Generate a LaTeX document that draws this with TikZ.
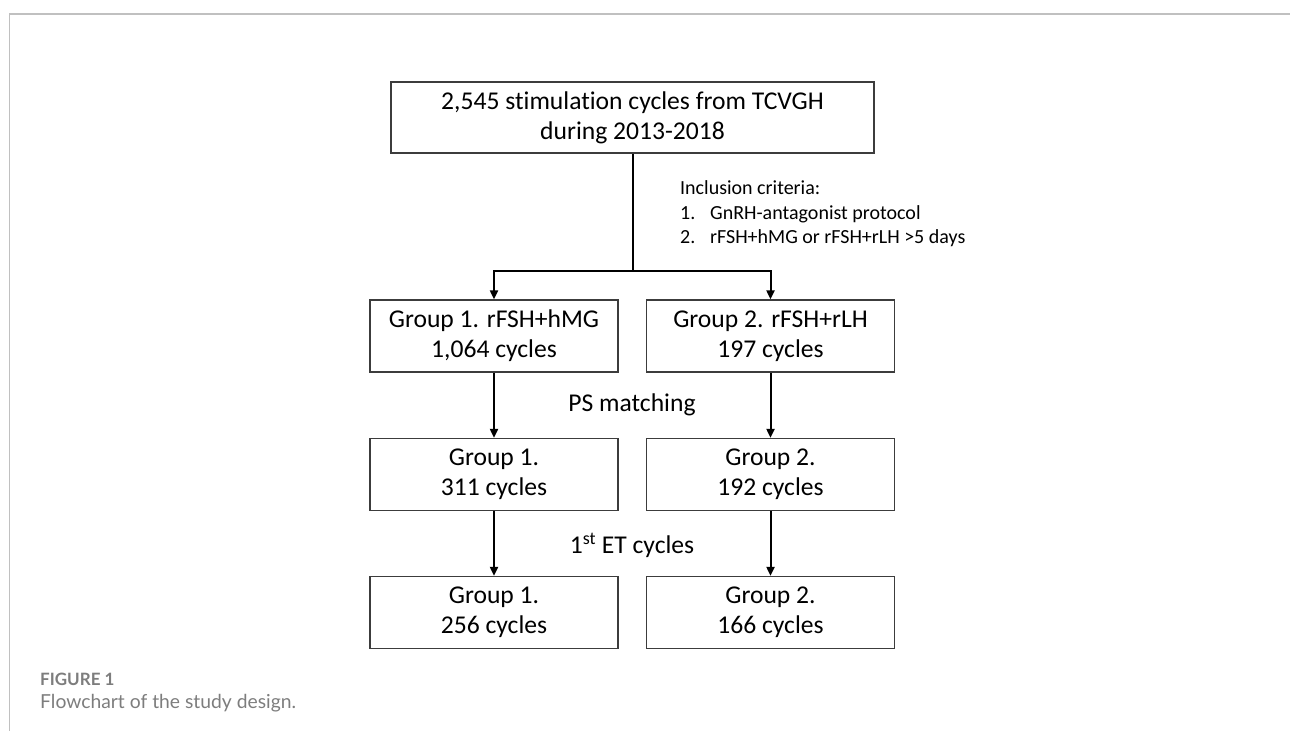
\documentclass[tikz,border=0pt]{standalone}
\usepackage{fontspec}
\setmainfont{Carlito}[Ligatures=NoCommon]
\newfontfamily\capfont{Lato}
\usepackage{tikz}
\usetikzlibrary{positioning,calc,arrows.meta}
\definecolor{framegray}{RGB}{192,192,192}
\definecolor{capgray}{RGB}{125,125,125}
\definecolor{boxline}{RGB}{60,60,60}

\begin{document}
\begin{tikzpicture}[x=1pt, y=-1pt,
    box/.style={draw=boxline, line width=1.3pt, align=center, inner sep=0pt,
        font=\fontsize{25.6}{30}\selectfont},
    widebox/.style={box, minimum width=483pt, minimum height=71pt},
    grpbox/.style={box, minimum width=248pt, minimum height=72pt},
    arr/.style={line width=2pt, -{Triangle[length=9pt,width=8pt]}},
    lbl/.style={font=\fontsize{25.6}{30}\selectfont}]
    \useasboundingbox (0,0) rectangle (1290,731);
    % Frame
    \draw[framegray, line width=1.2pt] (1290,14) -- (9.5,14) -- (9.5,731);

    % Boxes
    \node[widebox] (all) at (632.5,117.5) {2,545 stimulation cycles from TCVGH\\during 2013-2018};
    \node[grpbox] (gA1) at (494,336) {Group 1. rFSH+hMG\\1,064 cycles};
    \node[grpbox] (gB1) at (770.5,336) {Group 2. rFSH+rLH\\197 cycles};
    \node[grpbox] (gA2) at (494,474.5) {Group 1.\\311 cycles};
    \node[grpbox] (gB2) at (770.5,474.5) {Group 2.\\192 cycles};
    \node[grpbox] (gA3) at (494,612.5) {Group 1.\\256 cycles};
    \node[grpbox] (gB3) at (770.5,612.5) {Group 2.\\166 cycles};

    % Inclusion step
    \coordinate (split) at (632.5,271);
    \draw[line width=2pt] (all.south) -- (split);
    \draw[arr] (split) -| (gA1.north);
    \draw[arr] (split) -| (gB1.north);
    \node[anchor=west, inner sep=0pt, font=\fontsize{20}{24.5}\selectfont, align=left] (crit) at (680,214)
        {Inclusion criteria:\\
         \makebox[30pt][l]{1.}GnRH-antagonist protocol\\
         \makebox[30pt][l]{2.}rFSH+hMG or rFSH+rLH >5 days};

    % Matching and ET steps
    \draw[arr] (gA1) -- (gA2);
    \draw[arr] (gB1) -- (gB2);
    \draw[arr] (gA2) -- (gA3);
    \draw[arr] (gB2) -- (gB3);
    \node[lbl] (psm) at (632,405) {PS matching};
    \node[lbl] (etc) at (632,545) {1\textsuperscript{st} ET cycles};

    % Caption
    \node[anchor=base west, inner sep=0pt, text=capgray, font=\capfont\bfseries\fontsize{17}{19}\selectfont] (figno) at (40,685) {FIGURE 1};
    \node[anchor=base west, inner sep=0pt, text=capgray, font=\capfont\fontsize{19.3}{21}\selectfont] (figcap) at (40,708) {Flowchart of the study design.};
\end{tikzpicture}
\end{document}
